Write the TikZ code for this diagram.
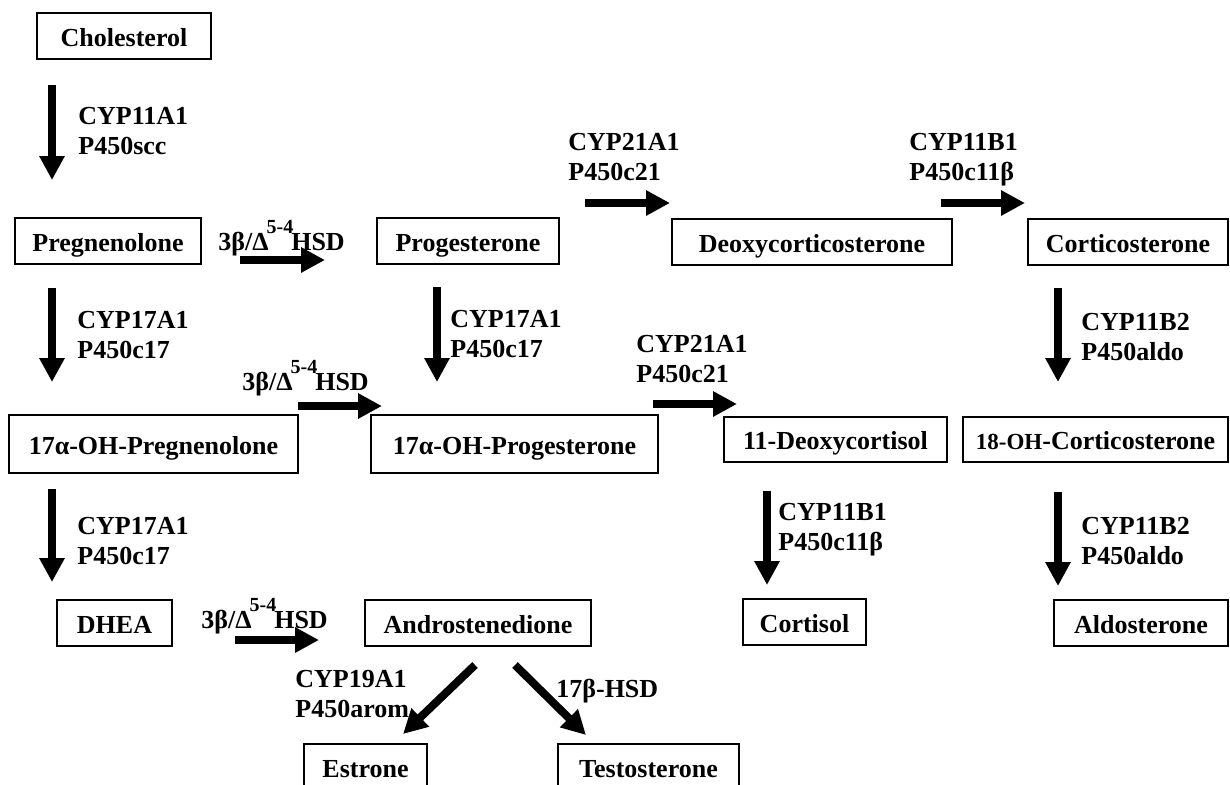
\documentclass[tikz,border=0pt]{standalone}
\usepackage{fontspec}
\setmainfont{Liberation Serif}
\usetikzlibrary{arrows.meta}

\newcommand{\hsdtext}{3β/Δ\kern-1pt\raisebox{8.5pt}{\fontsize{10}{10}\selectfont 5-4}\kern-1pt HSD}

\begin{document}
\begin{tikzpicture}[
    x=0.5pt, y=-0.5pt,
    box/.style={draw, line width=1pt, minimum height=23pt, inner sep=0pt, text height=10pt, text depth=0pt, font=\fontsize{13}{15}\selectfont\bfseries},
    enz/.style={anchor=north west, inner sep=0pt, align=left, font=\fontsize{13}{15}\selectfont\bfseries},
    hsd/.style={anchor=base west, inner sep=0pt, font=\fontsize{13}{15}\selectfont\bfseries},
    flow/.style={line width=4pt, -{Triangle[width=12pt, length=12pt]}}
  ]
  \useasboundingbox (0,0) rectangle (1230,784);

  % steroids
  \node[box, minimum width=87pt] (chol) at (124,36) {Cholesterol};
  \node[box, minimum width=93pt] (preg) at (108,241) {Pregnenolone};
  \node[box, minimum width=91pt] (prog) at (468,241) {Progesterone};
  \node[box, minimum width=140pt] (doc) at (812,242) {Deoxycorticosterone};
  \node[box, minimum width=100pt] (cort) at (1128,242) {Corticosterone};
  \node[box, minimum width=144.5pt, minimum height=29pt] (ohpreg) at (153.5,444) {17α-OH-Pregnenolone};
  \node[box, minimum width=143.5pt, minimum height=29pt] (ohprog) at (514.5,444) {17α-OH-Progesterone};
  \node[box, minimum width=111.5pt, minimum height=22.5pt] (deoxcort) at (835.5,439.5) {11-Deoxycortisol};
  \node[box, minimum width=132.5pt, minimum height=22.5pt] (ohcort) at (1095.5,439.5) {{\fontsize{11.5}{13}\selectfont 18-OH}-Corticosterone};
  \node[box, minimum width=57.5pt] (dhea) at (114.5,623) {DHEA};
  \node[box, minimum width=113pt] (andro) at (478,623) {Androstenedione};
  \node[box, minimum width=61.5pt] (cortisol) at (804.5,622) {Cortisol};
  \node[box, minimum width=87pt] (aldo) at (1141,623) {Aldosterone};
  \node[box, minimum width=61.5pt] (estrone) at (365.5,767) {Estrone};
  \node[box, minimum width=90.5pt] (testo) at (648.5,767) {Testosterone};

  % arrow ends
  \coordinate (chol-out) at (52,85);      \coordinate (preg-in) at (52,180);
  \coordinate (preg-r) at (240,260);      \coordinate (prog-l) at (325,260);
  \coordinate (preg-out) at (52,288);     \coordinate (ohpreg-in) at (52,382);
  \coordinate (prog-out) at (437,287);    \coordinate (ohprog-in) at (437,382);
  \coordinate (prog-r) at (585,203);      \coordinate (doc-l) at (670,203);
  \coordinate (doc-r) at (941,203);       \coordinate (cort-l) at (1025,203);
  \coordinate (cort-out) at (1058,288);   \coordinate (ohcort-in) at (1058,382);
  \coordinate (ohpreg-r) at (298,406);    \coordinate (ohprog-l) at (382,406);
  \coordinate (ohprog-r) at (653,404);    \coordinate (deoxcort-l) at (737,404);
  \coordinate (ohpreg-out) at (52,489);   \coordinate (dhea-in) at (52,582);
  \coordinate (deoxcort-out) at (767,491);\coordinate (cortisol-in) at (767,585);
  \coordinate (ohcort-out) at (1058,492); \coordinate (aldo-in) at (1058,586);
  \coordinate (dhea-r) at (235,640);      \coordinate (andro-l) at (319,640);
  \coordinate (andro-sw) at (475,665);    \coordinate (estrone-in) at (403,734);
  \coordinate (andro-se) at (515,665);    \coordinate (testo-in) at (586,735);

  % reactions
  \draw[flow] (chol-out) -- (preg-in);
  \draw[flow] (preg-r) -- (prog-l);
  \draw[flow] (preg-out) -- (ohpreg-in);
  \draw[flow] (prog-out) -- (ohprog-in);
  \draw[flow] (prog-r) -- (doc-l);
  \draw[flow] (doc-r) -- (cort-l);
  \draw[flow] (cort-out) -- (ohcort-in);
  \draw[flow] (ohpreg-r) -- (ohprog-l);
  \draw[flow] (ohprog-r) -- (deoxcort-l);
  \draw[flow] (ohpreg-out) -- (dhea-in);
  \draw[flow] (deoxcort-out) -- (cortisol-in);
  \draw[flow] (ohcort-out) -- (aldo-in);
  \draw[flow] (dhea-r) -- (andro-l);
  \draw[flow] (andro-sw) -- (estrone-in);
  \draw[flow] (andro-se) -- (testo-in);

  % enzymes
  \node[enz] (e-scc) at (78,107) {CYP11A1\\P450scc};
  \node[enz] (e-c17a) at (77,311) {CYP17A1\\P450c17};
  \node[enz] (e-c17b) at (450,310) {CYP17A1\\P450c17};
  \node[enz] (e-c17c) at (77,517) {CYP17A1\\P450c17};
  \node[enz] (e-c21a) at (568,133) {CYP21A1\\P450c21};
  \node[enz] (e-c21b) at (636,335) {CYP21A1\\P450c21};
  \node[enz] (e-c11a) at (909,133) {CYP11B1\\P450c11β};
  \node[enz] (e-c11b) at (778,503) {CYP11B1\\P450c11β};
  \node[enz] (e-aldoa) at (1081,313) {CYP11B2\\P450aldo};
  \node[enz] (e-aldob) at (1081,517) {CYP11B2\\P450aldo};
  \node[enz] (e-arom) at (295,670) {CYP19A1\\P450arom};
  \node[hsd] (e-hsd17) at (556,697) {17β-HSD};
  \node[hsd] (e-hsda) at (218,250) {\hsdtext};
  \node[hsd] (e-hsdb) at (242,390) {\hsdtext};
  \node[hsd] (e-hsdc) at (201,628) {\hsdtext};
\end{tikzpicture}
\end{document}
